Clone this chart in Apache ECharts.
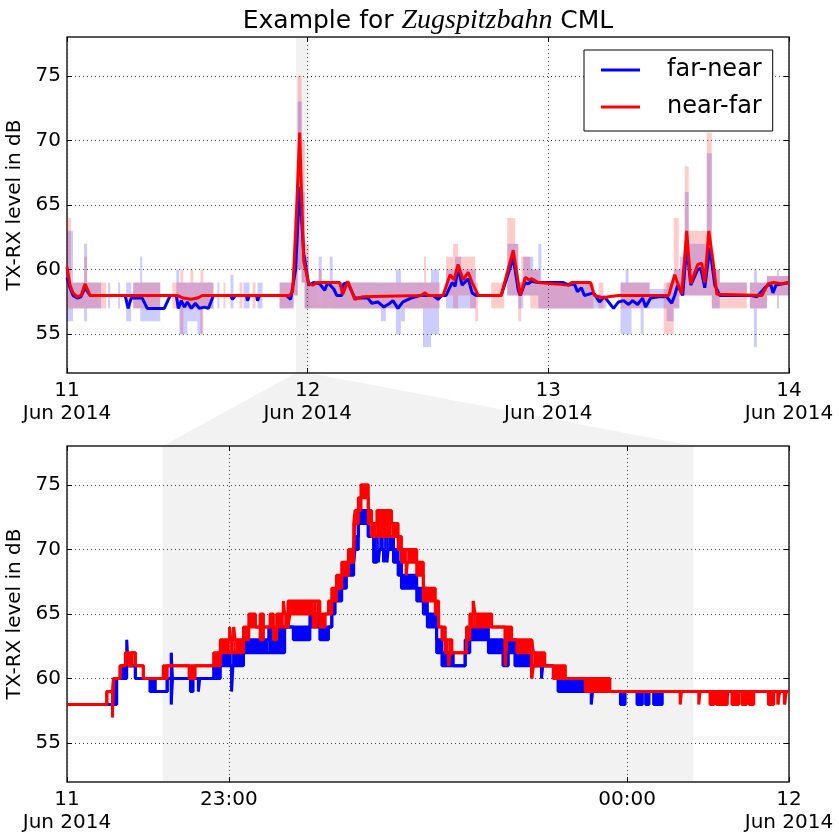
<!DOCTYPE html>
<html><head><meta charset="utf-8">
<script src="https://cdn.jsdelivr.net/npm/echarts@6/dist/echarts.min.js"></script>
<style>html,body{margin:0;padding:0;background:#fff}#c{width:839px;height:832px}</style>
</head><body><div id="c"></div>
<script>
// ---------- axes / ticks ----------
// top panel: hours since 11 Jun 2014 00:00
const topTickHours = [0, 24, 48, 72];
const topTickLabels = ['11\nJun 2014', '12\nJun 2014', '13\nJun 2014', '14\nJun 2014'];
const yTicks = [55, 60, 65, 70, 75];
const yRange = [52, 78];
// bottom panel: minutes relative to 11 Jun 2014 23:00
const bottomRange = [-24.4, 84.4];
const bottomTickMinutes = [-24.4, 0, 60, 84.4];
const bottomTickLabels = ['11\nJun 2014', '23:00', '00:00', '12\nJun 2014'];
// zoomed window (minutes relative to 23:00)
const zoomStartMin = -10;
const zoomEndMin = 70;

// ---------- top panel: smoothed levels [hour, dB] ----------
const topBlueMean = [[0,59.4],[0.3,58.6],[0.6,58.0],[1.0,57.8],[1.4,57.9],[1.8,58.6],[2.3,58.0],[5.8,58.0],[6.1,57.0],[6.4,57.8],[7.5,57.8],[8.0,57.0],[9.7,57.0],[10.3,58.0],[10.9,58.0],[11.1,57.0],[11.4,57.6],[11.7,57.1],[12.0,57.5],[12.4,57.0],[12.8,57.4],[13.2,57.0],[13.7,57.1],[14.1,57.0],[14.6,58.0],[16.3,58.0],[16.5,57.7],[16.8,58.0],[17.9,58.0],[18.0,57.6],[18.2,58.0],[18.9,58.0],[19.0,57.6],[19.2,58.0],[21.9,58.0],[22.3,57.7],[22.8,60.0],[23.2,66.4],[23.6,61.3],[24.1,58.8],[24.6,59.0],[25.2,58.9],[25.7,58.4],[26.0,59.0],[26.6,58.5],[26.9,58.0],[27.4,58.0],[27.6,58.9],[28.0,59.0],[28.7,57.8],[30.0,57.8],[30.4,57.4],[31.0,57.5],[31.6,57.1],[32.2,57.4],[32.5,57.6],[33.0,57.0],[33.5,57.5],[34.3,57.8],[35.2,58.0],[36.5,58.0],[37.0,57.7],[37.4,58.0],[37.8,58.0],[38.4,59.0],[38.7,58.7],[39.0,60.1],[39.4,58.8],[40.0,59.3],[40.4,58.2],[40.8,58.0],[43.3,58.0],[44.5,60.9],[45.0,58.4],[45.2,58.0],[45.7,59.0],[46.0,58.9],[46.3,59.1],[47.0,59.0],[49.5,59.0],[50.0,58.8],[50.6,58.9],[50.9,58.3],[51.3,58.6],[51.6,58.0],[52.5,58.2],[53.1,57.5],[53.6,57.9],[54.5,57.0],[55.0,57.5],[55.5,57.6],[56.0,57.3],[56.4,57.6],[56.9,57.3],[57.4,57.8],[57.7,57.1],[58.2,57.8],[59.0,57.9],[59.8,57.9],[60.3,57.4],[60.6,58.0],[60.9,58.8],[61.4,58.0],[61.8,61.9],[62.2,58.8],[62.9,60.0],[63.2,60.1],[63.6,58.6],[64.1,61.7],[64.6,58.8],[65.1,58.0],[68.3,58.0],[68.8,57.9],[69.6,58.6],[69.9,58.8],[70.2,58.8],[70.4,58.2],[70.7,58.8],[71.4,58.9],[72,59.0]];
const topRedMean = [[0,60.2],[0.3,58.8],[0.6,58.2],[1.0,57.9],[1.4,58.0],[1.8,58.9],[2.3,58.0],[11.0,58.0],[11.6,57.8],[12.4,57.7],[13.0,57.8],[13.5,58.0],[22.2,58.0],[22.5,58.3],[22.8,62.8],[23.2,70.6],[23.6,60.7],[24.1,58.9],[24.5,58.8],[25.0,59.0],[27.2,59.0],[27.5,58.1],[28.0,59.1],[28.7,57.7],[29.5,57.9],[35.3,58.0],[35.7,58.2],[36.0,58.0],[37.5,58.0],[38.2,59.6],[38.6,59.2],[39.0,60.4],[39.5,59.2],[40.0,59.8],[40.4,59.0],[41.0,58.0],[43.3,58.0],[44.5,61.5],[45.2,58.0],[45.7,59.4],[46.1,59.2],[46.3,59.3],[47.0,59.0],[50.0,58.8],[50.3,59.0],[52.2,59.0],[52.6,58.0],[53.5,57.8],[54.0,57.9],[55.0,58.0],[60.0,58.0],[60.6,59.6],[61.3,58.1],[61.8,63.0],[62.2,58.9],[62.9,60.4],[63.3,60.5],[63.6,59.0],[64.0,63.0],[64.4,60.8],[64.8,58.1],[69.3,58.0],[69.9,58.9],[70.5,59.0],[71.2,58.9],[72,59.0]];

// ---------- top panel: raw spread [start hour, min dB, max dB] ----------
const topBlueBand = [[0,56,63],[0.6,57,59],[1.7,56,62],[2.0,57,59],[3.4,58,58],[4.1,57,59],[4.3,58,58],[5.1,57,59],[5.3,58,58],[5.9,56,59],[6.4,58,58],[6.6,57,59],[7.3,56,61],[7.5,56,59],[9.3,58,58],[10.9,57,60],[11.2,55,59],[12.0,56,59],[13.0,55,59],[13.5,57,59],[14.6,58,58],[15.0,57,59],[15.2,58,58],[16.3,57,59.6],[16.6,58,58],[17.6,57,59],[18.2,58,58],[19.0,57,59],[19.5,58,58],[21.2,57,59],[22.6,58,63],[23.0,60,73],[23.4,59,66],[23.7,57,61],[24.1,57,59],[25.1,57,61],[25.4,57,59],[26.2,57,61],[26.5,57,59],[31.3,56,59],[31.8,57,59],[32.8,55,60],[33.3,56,59],[33.7,57,59],[35.5,54,59],[36.3,55,60],[37.1,58,58],[37.8,57,60],[38.7,57,61],[39.3,57,60],[40.8,58,58],[43.9,58,62],[45.0,57,59],[45.5,58,61],[46.5,58,60],[47.0,57,62],[47.3,57,59],[52.5,57,58],[53.8,58,58],[55.2,55,59],[55.7,55,60],[56.0,55,59],[56.3,57,59],[57.2,55,59],[57.5,57,59],[58.1,57,58.5],[59.8,56,59],[60.5,57,60],[61.1,58,61],[61.6,58,66],[62.0,58,62],[63.8,58,69],[64.3,57,60],[65.1,58,59],[67.8,58,58],[68.1,57,59],[68.5,54,60],[68.8,57,59],[69.8,58,59.5],[70.8,57,60],[71.0,58,59.5],[72,58,59.5]];
const topRedBand = [[0,57,64],[0.4,57,59],[1.7,57,61],[2.0,57,59],[3.9,58,58],[6.6,57,59],[9.3,58,58],[10.5,57,59],[11.3,55,60],[11.6,57,59],[12.3,57,60],[12.6,57,59],[13.3,55,60],[13.6,57,59],[14.6,58,58],[15.6,57,59],[15.8,58,58],[17.2,57,59],[17.5,58,58],[18.5,57,59],[18.8,58,58],[21.2,57,59],[22.6,58,64],[23.0,60,75],[23.4,59,70],[23.7,57,62],[24.1,57,59],[25.1,57,60],[25.4,57,59],[35.6,57,61],[35.8,57,59],[37.2,58,58],[37.8,58,61],[38.5,57,62],[39.0,58,61],[40.2,57,61],[40.7,56,59],[41.0,58,58],[42.3,57,59],[43.6,58,58],[43.9,58,64],[44.7,58,62],[45.0,56,59],[45.3,58,61],[46.2,57,60],[47.2,57,59],[52.5,58,58],[53.0,57,59],[53.5,58,58],[55.2,57,59],[58.1,58,58],[59.5,55,59],[60.5,57,64],[61.0,58,60],[61.6,58,68],[62.0,58,63],[63.8,58,70.6],[64.3,57,60],[65.1,57,59],[67.8,58,58],[68.1,57,59],[69.8,58,59.5],[72,58,59.5]];

// ---------- bottom panel: raw levels [start minute, low dB, high dB] ----------
const bottomBlue = [[-24.4,58,58],[-17.4,58,60],[-16.9,60,60],[-16.1,60,61],[-15.4,61,63],[-15.2,61,61],[-14.1,60,60],[-11.9,59,60],[-11.1,59,59],[-9.3,60,60],[-8.7,58,62],[-8.5,60,60],[-5.8,59,60],[-5.4,60,60],[-4.6,59,60],[-4.4,60,60],[-2.3,60,61],[-1.3,61,62],[0.4,59,62],[0.6,61,62],[2.2,62,63],[6.0,62,64],[8.4,64,64],[9.7,63,64],[12.2,64,65],[13.7,63,64],[15.0,64,64],[15.5,65,66],[16.0,66,67],[17.0,67,68],[17.7,68,69],[18.8,69,70],[19.0,70,71],[19.5,72,73],[21.0,71,71],[21.8,69,71],[22.3,70,71],[22.5,69,71],[22.7,70,71],[23.3,69,71],[23.5,70,71],[23.8,69,71],[24.0,70,71],[24.8,69,70],[25.5,68,69],[26.0,67,68],[28.3,66,67],[29.3,65,67],[29.9,64,65],[31.3,62,63],[32.1,61,62],[33.8,61,61],[35.6,62,63],[36.3,63,64],[39.1,62,63],[41.3,61,62],[42.1,62,63],[43.1,61,62],[45.4,61,61],[47.1,60,61],[47.3,61,61],[48.9,60,60],[49.6,59,60],[53.7,59,59],[54.6,58,59],[54.8,59,59],[59.0,58,59],[59.7,59,59],[61.5,58,59],[62.3,59,59],[62.8,58,59],[63.3,59,59],[64.0,58,59],[65.3,59,59],[73.1,58,59],[73.4,59,59],[74.9,58,59],[75.2,59,59],[84.4,59,59]];
const bottomRed = [[-24.4,58,58],[-18.4,59,59],[-17.55,57,59],[-17.4,60,60],[-16.4,61,61],[-15.6,62,62],[-15.1,61,62],[-14.6,62,62],[-14.1,61,61],[-12.9,60,60],[-9.9,60,61],[-9.3,61,61],[-6.0,60,61],[-5.1,61,61],[-2.3,61,62],[-1.3,62,63],[0.1,62,64],[0.3,62,63],[0.7,62,64],[0.95,62,63],[2.2,63,64],[3.0,64,65],[4.0,64,64],[4.7,63,65],[5.2,64,64],[6.2,64,65],[6.7,63,64],[7.2,64,65],[8.2,64,66],[8.4,64,65],[8.9,64,66],[9.2,65,66],[12.7,64,66],[13.2,65,66],[13.7,64,65],[14.5,65,65],[15.0,65,66],[15.5,66,67],[16.2,67,68],[17.0,68,69],[18.0,69,70],[18.8,70,72],[19.0,72,73],[19.5,73,74],[19.9,74,75],[21.0,72,73],[21.5,71,72],[22.3,71,73],[24.5,71,72],[25.5,70,71],[26.0,69,70],[26.7,68,70],[26.9,69,70],[28.3,68,69],[29.3,66,67],[31.1,65,66],[31.6,64,64],[32.1,63,64],[32.6,62,63],[33.1,61,63],[33.35,62,63],[33.6,62,62],[35.8,63,64],[36.3,64,65],[36.8,64,66],[37.1,64,65],[39.6,64,64],[41.6,61,64],[41.9,63,64],[42.6,63,63],[43.4,62,63],[45.6,60,63],[45.9,61,62],[47.6,61,61],[48.9,60,61],[50.7,60,60],[53.7,59,60],[57.4,59,59],[68.0,58,59],[68.2,59,59],[70.8,58,59],[71.0,59,59],[72.5,58,59],[73.1,59,59],[73.5,58,59],[75.1,59,59],[75.8,58,59],[76.8,59,59],[77.3,58,59],[78.0,59,59],[78.4,58,59],[79.1,59,59],[81.3,58,59],[82.1,59,59],[82.7,58,59],[83.0,59,59],[83.7,58,59],[84.0,59,59],[84.4,59,59]];

const seriesNames = ['far-near', 'near-far'];
const seriesColors = ['#0000ff', '#ff0000'];

// ---------- build ----------
const FONT = 'DejaVu Sans';
const zoomStartH = 23 + zoomStartMin / 60;
const zoomEndH = 23 + zoomEndMin / 60;

function lookup(vals, labels) {
  return function (v) {
    for (let i = 0; i < vals.length; i++) if (Math.abs(vals[i] - v) < 1e-6) return labels[i];
    return '';
  };
}
const gridLineStyle = { color: '#444', width: 1, type: [1, 3] };
const tickStyle = { show: true, inside: true, length: 5, lineStyle: { color: '#000', width: 1 } };
const labelStyle = { color: '#000', fontFamily: FONT, fontSize: 20 };

// rows [start, low, high] -> blocks [start, end, low, high]
function toBlocks(rows) {
  const out = [];
  for (let i = 0; i < rows.length - 1; i++) {
    if (rows[i][2] > rows[i][1]) out.push([rows[i][0], rows[i + 1][0], rows[i][1], rows[i][2]]);
  }
  return out;
}
function blockSeries(id, rows, xi, yi, color, opacity, z) {
  return {
    type: 'custom', name: id, xAxisIndex: xi, yAxisIndex: yi, silent: true, clip: true, z: z,
    data: toBlocks(rows), encode: { x: [0, 1], y: [2, 3] },
    renderItem: function (params, api) {
      const a = api.coord([api.value(0), api.value(3)]);
      const b = api.coord([api.value(1), api.value(2)]);
      return { type: 'rect', shape: { x: a[0], y: a[1], width: b[0] - a[0], height: b[1] - a[1] },
               style: { fill: color, opacity: opacity } };
    }
  };
}
function stepLine(id, rows, idx, xi, yi, color, z) {
  return { type: 'line', name: id, xAxisIndex: xi, yAxisIndex: yi, step: 'end', silent: true, z: z,
    data: rows.map(r => [r[0], r[idx]]), symbol: 'none', color: color,
    lineStyle: { color: color, width: 3 } };
}
function shadeSeries(xi, yi, x0, x1) {
  return { type: 'line', name: 'zoom-shade-' + xi, xAxisIndex: xi, yAxisIndex: yi, data: [], silent: true, z: -1,
    markArea: { silent: true, z: -1, itemStyle: { color: '#f2f2f2' }, data: [[{ xAxis: x0 }, { xAxis: x1 }]] } };
}

const series = [
  shadeSeries(0, 0, zoomStartH, zoomEndH),
  blockSeries('topBlue spread', topBlueBand, 0, 0, seriesColors[0], 0.2, 2),
  blockSeries('topRed spread', topRedBand, 0, 0, seriesColors[1], 0.2, 2),
  { type: 'line', name: seriesNames[0], xAxisIndex: 0, yAxisIndex: 0, data: topBlueMean, symbol: 'none', color: seriesColors[0],
    lineStyle: { color: seriesColors[0], width: 3 }, z: 3 },
  { type: 'line', name: seriesNames[1], xAxisIndex: 0, yAxisIndex: 0, data: topRedMean, symbol: 'none', color: seriesColors[1],
    lineStyle: { color: seriesColors[1], width: 3 }, z: 3 },
  shadeSeries(1, 1, zoomStartMin, zoomEndMin),
  blockSeries('bottomBlue fill', bottomBlue, 1, 1, seriesColors[0], 1, 2),
  stepLine('bottomBlue low', bottomBlue, 1, 1, 1, seriesColors[0], 2),
  stepLine('bottomBlue high', bottomBlue, 2, 1, 1, seriesColors[0], 2),
  blockSeries('bottomRed fill', bottomRed, 1, 1, seriesColors[1], 1, 3),
  stepLine('bottomRed low', bottomRed, 1, 1, 1, seriesColors[1], 3),
  stepLine('bottomRed high', bottomRed, 2, 1, 1, seriesColors[1], 3)
];

const grids = [
  { left: 67, top: 37, width: 722, height: 336 },
  { left: 67, top: 446, width: 722, height: 336 }
].map(g => Object.assign(g, { show: true, borderColor: '#222', borderWidth: 1.5, backgroundColor: 'transparent', containLabel: false, outerBoundsMode: 'none' }));

const xAxes = [
  { type: 'value', gridIndex: 0, min: topTickHours[0], max: topTickHours[3], interval: 24,
    axisLine: { show: false, onZero: false }, axisTick: tickStyle,
    axisLabel: Object.assign({ margin: 6, lineHeight: 23, formatter: lookup(topTickHours, topTickLabels) }, labelStyle),
    splitLine: { show: true, lineStyle: gridLineStyle } },
  { type: 'value', gridIndex: 1, min: bottomRange[0], max: bottomRange[1],
    axisLine: { show: false, onZero: false }, axisTick: Object.assign({ customValues: bottomTickMinutes }, tickStyle),
    axisLabel: Object.assign({ margin: 6, lineHeight: 23, customValues: bottomTickMinutes, formatter: lookup(bottomTickMinutes, bottomTickLabels) }, labelStyle),
    splitLine: { show: true, lineStyle: gridLineStyle } },
  { type: 'value', gridIndex: 0, position: 'top', min: topTickHours[0], max: topTickHours[3], interval: 24,
    axisLine: { show: false, onZero: false }, axisTick: tickStyle, axisLabel: { show: false }, splitLine: { show: false } },
  { type: 'value', gridIndex: 1, position: 'top', min: bottomRange[0], max: bottomRange[1],
    axisLine: { show: false, onZero: false }, axisTick: Object.assign({ customValues: bottomTickMinutes }, tickStyle), axisLabel: { show: false }, splitLine: { show: false } }
];
function yAxisFor(gi, main) {
  return { type: 'value', gridIndex: gi, min: yRange[0], max: yRange[1], position: main ? 'left' : 'right',
    name: main ? 'TX-RX level in dB' : '', nameLocation: 'middle', nameGap: 38,
    nameTextStyle: { color: '#000', fontFamily: FONT, fontSize: 20 },
    axisLine: { show: false, onZero: false }, axisTick: Object.assign({ customValues: yTicks }, tickStyle),
    axisLabel: main ? Object.assign({ margin: 6, customValues: yTicks }, labelStyle) : { show: false },
    splitLine: { show: !!main, lineStyle: gridLineStyle } };
}
const yAxes = [yAxisFor(0, true), yAxisFor(1, true), yAxisFor(0, false), yAxisFor(1, false)];

const option = {
  animation: false,
  backgroundColor: '#fff',
  title: {
    text: '{n|Example for }{i|Zugspitzbahn}{n| CML}', left: 423, top: 2, textAlign: 'center',
    textStyle: { fontWeight: 'normal', rich: {
      n: { fontFamily: FONT, fontSize: 25, fontWeight: 'normal', color: '#000' },
      i: { fontFamily: 'Liberation Serif', fontStyle: 'italic', fontWeight: 'normal', fontSize: 28, color: '#000' } } }
  },
  legend: {
    data: seriesNames, orient: 'vertical', left: 584, top: 50, selectedMode: false,
    backgroundColor: '#fff', borderColor: '#000', borderWidth: 1, borderRadius: 0,
    padding: [8, 11, 12, 17], itemWidth: 39, itemHeight: 3, itemGap: 13, icon: 'rect',
    formatter: n => '{t|' + n + '}',
    textStyle: { color: '#000', fontFamily: FONT, fontSize: 24, rich: { t: { fontFamily: FONT, fontSize: 24, lineHeight: 24, color: '#000', padding: [0, 0, 0, 22] } } }
  },
  grid: grids,
  xAxis: xAxes,
  yAxis: yAxes,
  series: series
};

const chart = echarts.init(document.getElementById('c'), null, { renderer: 'canvas' });
chart.setOption(option);
// connector between the zoom window in the top panel and the bottom panel
const pA = chart.convertToPixel({ gridIndex: 0 }, [zoomStartH, yRange[0]]);
const pB = chart.convertToPixel({ gridIndex: 0 }, [zoomEndH, yRange[0]]);
const pC = chart.convertToPixel({ gridIndex: 1 }, [zoomEndMin, yRange[1]]);
const pD = chart.convertToPixel({ gridIndex: 1 }, [zoomStartMin, yRange[1]]);
chart.setOption({ graphic: [{ type: 'polygon', z: -10, silent: true, shape: { points: [pA, pB, pC, pD] }, style: { fill: '#f2f2f2' } }] });
</script></body></html>
